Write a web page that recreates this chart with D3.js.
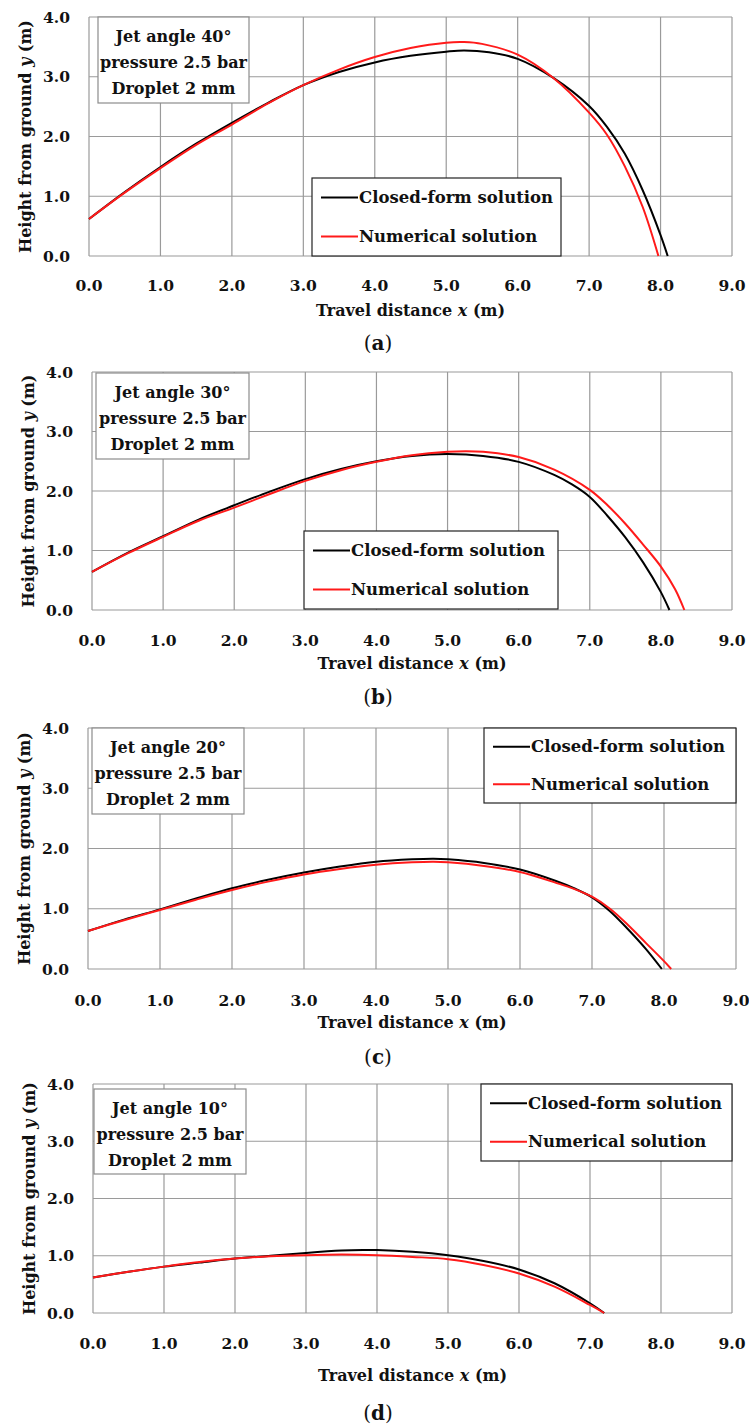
<!DOCTYPE html>
<html>
<head>
<meta charset="utf-8">
<script src="https://cdn.jsdelivr.net/npm/d3@7"></script>
<style>
  body { margin: 0; background: #fff; }
  svg text { font-family: "DejaVu Serif", serif; font-weight: bold; fill: #111; }
</style>
</head>
<body>
<div id="chart"></div>
<script>
// Tick labels shared by all four panels
const xTicks = [0, 1, 2, 3, 4, 5, 6, 7, 8, 9];
const yTicks = [0, 1, 2, 3, 4];
const panelTags = ['a', 'b', 'c', 'd'];
const jetAngles = [40, 30, 20, 10];
const seriesNames = ['Closed-form solution', 'Numerical solution'];

// Trajectories, [x (m), y (m)]
const closedA = [[0,0.62],[0.5,1.07],[1,1.49],[1.5,1.88],[2,2.23],[2.5,2.56],[3,2.86],[3.5,3.08],[4,3.24],[4.5,3.35],[5,3.42],[5.25,3.44],[5.6,3.41],[6,3.30],[6.5,2.98],[7,2.51],[7.25,2.16],[7.5,1.71],[7.75,1.10],[8,0.35],[8.1,0]];
const numA = [[0,0.62],[0.5,1.06],[1,1.47],[1.5,1.86],[2,2.20],[2.5,2.55],[3,2.86],[3.5,3.12],[4,3.33],[4.5,3.48],[5,3.57],[5.25,3.58],[5.5,3.55],[6,3.37],[6.5,2.98],[7,2.40],[7.25,2.03],[7.5,1.50],[7.75,0.82],[7.97,0]];

const closedB = [[0,0.64],[0.5,0.96],[1,1.24],[1.5,1.52],[2,1.76],[2.5,1.99],[3,2.20],[3.5,2.37],[4,2.50],[4.5,2.59],[5,2.62],[5.5,2.59],[6,2.49],[6.5,2.27],[6.75,2.11],[7,1.90],[7.25,1.58],[7.5,1.22],[7.75,0.80],[8,0.30],[8.12,0]];
const numB = [[0,0.64],[0.5,0.95],[1,1.23],[1.5,1.50],[2,1.72],[2.5,1.95],[3,2.17],[3.5,2.35],[4,2.49],[4.5,2.60],[5,2.66],[5.25,2.67],[5.5,2.66],[6,2.57],[6.5,2.36],[7,2.02],[7.25,1.76],[7.5,1.45],[7.75,1.10],[8,0.73],[8.2,0.35],[8.33,0]];

const closedC = [[0,0.63],[0.5,0.82],[1,0.99],[1.5,1.17],[2,1.34],[2.5,1.48],[3,1.60],[3.5,1.70],[4,1.78],[4.5,1.82],[4.8,1.83],[5,1.82],[5.5,1.76],[6,1.65],[6.5,1.46],[6.75,1.34],[7,1.19],[7.25,0.96],[7.5,0.66],[7.75,0.33],[7.97,0]];
const numC = [[0,0.63],[0.5,0.81],[1,0.98],[1.5,1.15],[2,1.31],[2.5,1.45],[3,1.57],[3.5,1.66],[4,1.73],[4.5,1.77],[4.8,1.78],[5,1.77],[5.5,1.71],[6,1.61],[6.5,1.43],[6.75,1.33],[7,1.20],[7.25,1.00],[7.5,0.73],[7.75,0.43],[8,0.13],[8.1,0]];

const closedD = [[0,0.62],[0.5,0.72],[1,0.81],[1.5,0.88],[2,0.95],[2.5,1.00],[3,1.05],[3.5,1.09],[3.8,1.10],[4,1.10],[4.5,1.07],[5,1.01],[5.5,0.91],[6,0.76],[6.5,0.52],[7,0.17],[7.2,0]];
const numD = [[0,0.62],[0.5,0.72],[1,0.81],[1.5,0.89],[2,0.95],[2.5,0.99],[3,1.01],[3.5,1.02],[4,1.01],[4.5,0.98],[5,0.94],[5.5,0.84],[6,0.69],[6.5,0.46],[7,0.14],[7.2,0]];

const closedAll = [closedA, closedB, closedC, closedD];
const numAll = [numA, numB, numC, numD];

// Where each panel sits on the page (plot box, info box, legend box)
const layout = [
  { l: 89, r: 732, t: 17,   b: 256,  info: [98, 17, 151, 86],   leg: [312, 178, 249, 78],  tickY: 285,  titleY: 310,  tagY: 343 },
  { l: 92, r: 732, t: 372,  b: 610,  info: [96, 373, 153, 86],  leg: [304, 531, 254, 78],  tickY: 640,  titleY: 663,  tagY: 697 },
  { l: 88, r: 736, t: 728,  b: 969,  info: [92, 728, 152, 86],  leg: [484, 728, 252, 75],  tickY: 1000, titleY: 1022, tagY: 1057 },
  { l: 93, r: 732, t: 1084, b: 1313, info: [94, 1089, 152, 85], leg: [481, 1084, 251, 77], tickY: 1343, titleY: 1375, tagY: 1413 }
];

const colors = ['#000000', '#ff1a1a'];

const svg = d3.select('#chart').append('svg')
    .attr('width', 749)
    .attr('height', 1428);

layout.forEach((p, i) => drawPanel(p, i));

function drawPanel(p, i) {
    const x = d3.scaleLinear().domain([0, 9]).range([p.l, p.r]);
    const y = d3.scaleLinear().domain([0, 4]).range([p.b, p.t]);
    const g = svg.append('g');

    // grid
    g.append('g').selectAll('line').data(xTicks).enter().append('line')
        .attr('x1', d => x(d)).attr('x2', d => x(d))
        .attr('y1', p.t).attr('y2', p.b)
        .attr('stroke', '#9a9a9a').attr('stroke-width', 1.2);
    g.append('g').selectAll('line').data(yTicks).enter().append('line')
        .attr('x1', p.l).attr('x2', p.r)
        .attr('y1', d => y(d)).attr('y2', d => y(d))
        .attr('stroke', '#9a9a9a').attr('stroke-width', 1.2);

    // tick labels
    g.append('g').selectAll('text').data(xTicks).enter().append('text')
        .attr('x', d => x(d)).attr('y', p.tickY)
        .attr('text-anchor', 'middle').attr('dominant-baseline', 'central')
        .style('font-size', '15.5px')
        .text(d => d.toFixed(1));
    g.append('g').selectAll('text').data(yTicks).enter().append('text')
        .attr('x', p.l - 19).attr('y', d => y(d))
        .attr('text-anchor', 'end').attr('dominant-baseline', 'central')
        .style('font-size', '15.5px')
        .text(d => d.toFixed(1));

    // axis titles
    const xt = g.append('text')
        .attr('x', (p.l + p.r) / 2).attr('y', p.titleY)
        .attr('text-anchor', 'middle').attr('dominant-baseline', 'central')
        .style('font-size', '16px');
    xt.append('tspan').text('Travel distance ');
    xt.append('tspan').style('font-style', 'italic').text('x');
    xt.append('tspan').text(' (m)');

    const yt = g.append('text')
        .attr('transform', `translate(${p.l - 64},${(p.t + p.b) / 2}) rotate(-90)`)
        .attr('text-anchor', 'middle').attr('dominant-baseline', 'central')
        .style('font-size', '16px');
    yt.append('tspan').text('Height from ground ');
    yt.append('tspan').style('font-style', 'italic').text('y');
    yt.append('tspan').text(' (m)');

    // panel tag
    const tg = g.append('text')
        .attr('x', 378).attr('y', p.tagY)
        .attr('text-anchor', 'middle').attr('dominant-baseline', 'central')
        .style('font-size', '20px').style('font-weight', 'normal');
    tg.append('tspan').text('(');
    tg.append('tspan').style('font-weight', 'bold').text(panelTags[i]);
    tg.append('tspan').text(')');

    // curves, black first so red sits on top
    const line = d3.line()
        .x(d => x(d[0])).y(d => y(d[1]))
        .curve(d3.curveCatmullRom.alpha(0.5));
    [closedAll[i], numAll[i]].forEach((s, k) => {
        g.append('path').datum(s)
            .attr('d', line)
            .attr('fill', 'none')
            .attr('stroke', colors[k])
            .attr('stroke-width', 2);
    });

    // info box
    const [ix, iy, iw, ih] = p.info;
    g.append('rect').attr('x', ix).attr('y', iy).attr('width', iw).attr('height', ih)
        .attr('fill', '#fff').attr('stroke', '#8c8c8c').attr('stroke-width', 1.2);
    const infoLines = ['Jet angle ' + jetAngles[i] + '°', 'pressure 2.5 bar', 'Droplet 2 mm'];
    g.append('g').selectAll('text').data(infoLines).enter().append('text')
        .attr('x', ix + iw / 2).attr('y', (d, j) => iy + 19 + j * 26)
        .attr('text-anchor', 'middle').attr('dominant-baseline', 'central')
        .style('font-size', '16px')
        .text(d => d);

    // legend
    const [lx, ly, lw, lh] = p.leg;
    g.append('rect').attr('x', lx).attr('y', ly).attr('width', lw).attr('height', lh)
        .attr('fill', '#fff').attr('stroke', '#222').attr('stroke-width', 1.2);
    seriesNames.forEach((name, k) => {
        const cy = ly + lh * (k === 0 ? 0.25 : 0.75);
        g.append('line')
            .attr('x1', lx + 9).attr('x2', lx + 46)
            .attr('y1', cy).attr('y2', cy)
            .attr('stroke', colors[k]).attr('stroke-width', 2);
        g.append('text')
            .attr('x', lx + 47).attr('y', cy)
            .attr('dominant-baseline', 'central')
            .style('font-size', '16.5px')
            .text(name);
    });
}
</script>
</body>
</html>
